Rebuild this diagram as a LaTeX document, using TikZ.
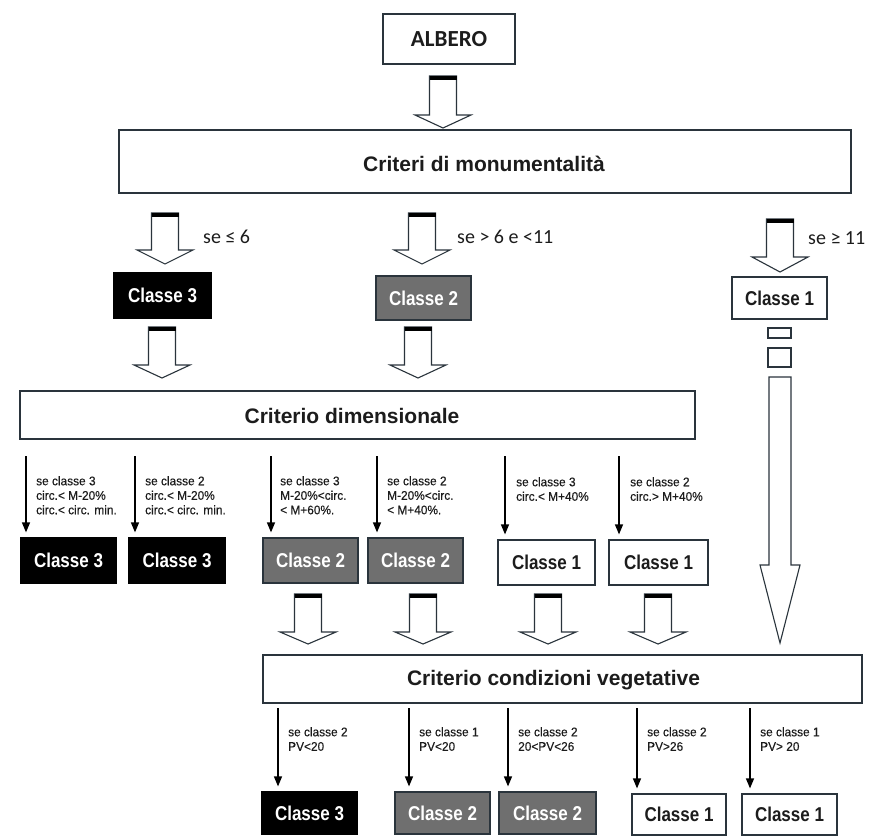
\documentclass[tikz,border=0pt]{standalone}
\usepackage{fontspec}
\setmainfont{Liberation Sans}
\newfontfamily\calfont{Carlito}
\newfontfamily\condfont[FakeStretch=0.85]{Liberation Sans}
\newfontfamily\titfont{Liberation Sans}
\newfontfamily\smallfont[FakeStretch=0.95,FakeBold=0.3]{Liberation Sans}
\usetikzlibrary{arrows.meta}
\definecolor{boxline}{HTML}{2A343C}
\definecolor{textdark}{HTML}{1C1C1C}
\definecolor{grayfill}{HTML}{6F6F6F}
\tikzset{
  whitebox/.style={draw=boxline, line width=1.2pt, fill=white, text=textdark, inner sep=0pt,
     font=\condfont\bfseries\fontsize{20}{22}\selectfont},
  blackbox/.style={draw=black, line width=1.2pt, fill=black, text=white, inner sep=0pt,
     font=\condfont\bfseries\fontsize{20}{22}\selectfont},
  graybox/.style={draw=boxline, line width=1.2pt, fill=grayfill, text=white, inner sep=0pt,
     font=\condfont\bfseries\fontsize{20}{22}\selectfont},
  critbox/.style={draw=boxline, line width=1.2pt, fill=white, inner sep=0pt},
  crittext/.style={text=textdark, inner sep=0pt, font=\titfont\bfseries\fontsize{21}{23}\selectfont},
  condlabel/.style={text=textdark, inner sep=0pt, anchor=north west, align=left,
     font=\smallfont\fontsize{12.5}{14.5}\selectfont},
  selabel/.style={text=textdark, inner sep=0pt, anchor=west, font=\calfont\fontsize{20}{22}\selectfont},
  thinarrow/.style={draw=black, line width=1.3pt, -{Triangle[width=8pt,length=10pt]}, shorten >=5pt},
  harrowline/.style={draw=boxline, line width=1.1pt, fill=white, line join=miter},
}
% hollow arrow: x, top, head start, tip
\newcommand\harrow[4]{%
  \draw[harrowline] (#1-13.5,#2) -- (#1-13.5,#3) -- (#1-28,#3) -- (#1,#4) -- (#1+28,#3)
     -- (#1+13.5,#3) -- (#1+13.5,#2) -- cycle;
  \fill[black] (#1-13.5,#2) rectangle (#1+13.5,#2+4);
}
\begin{document}
\begin{tikzpicture}[x=1pt,y=-1pt]
\useasboundingbox (0,0) rectangle (869,835);
\fill[white] (0,0) rectangle (869,835);

% top
\node[whitebox, minimum width=132pt, minimum height=50pt, font=\calfont\bfseries\fontsize{23}{25}\selectfont] (albero) at (449,39) {ALBERO};
\harrow{443}{76}{115}{128}
\node[critbox, minimum width=732pt, minimum height=63pt] (crit1) at (485,161.5) {};
\node[crittext] (crit1t) at (484,164) {Criteri di monumentalità};

% first split
\harrow{165}{213}{250}{264}
\harrow{422}{213}{250}{264}
\harrow{780}{219}{257}{272}
\node[selabel] (l1) at (203,237) {se ≤ 6};
\node[selabel] (l2) at (457,237) {se > 6 e <11};
\node[selabel] (l3) at (808,238) {se ≥ 11};

\node[blackbox, minimum width=97pt, minimum height=45pt] (c3a) at (162.5,295.5) {Classe 3};
\node[graybox, minimum width=95pt, minimum height=44pt] (c2a) at (423.5,298) {Classe 2};
\node[whitebox, minimum width=95pt, minimum height=42pt] (c1a) at (779.5,298) {Classe 1};

% right long arrow
\draw[harrowline] (768,328) rectangle (791,338);
\draw[harrowline] (768,348) rectangle (791,367);
\draw[harrowline] (769,377) -- (769,565) -- (760,565) -- (780,643) -- (800,565) -- (791,565) -- (791,377) -- cycle;

% second
\harrow{162}{327}{365}{378}
\harrow{418}{327}{365}{378}
\node[critbox, minimum width=675pt, minimum height=48pt] (crit2) at (357.5,415) {};
\node[crittext] (crit2t) at (352,416) {Criterio dimensionale};

% row 1
\node[blackbox, minimum width=95pt, minimum height=45pt] (r1) at (68.5,560.5) {Classe 3};
\node[blackbox, minimum width=97pt, minimum height=45pt] (r2) at (177,560.5) {Classe 3};
\node[graybox, minimum width=95pt, minimum height=45pt] (r3) at (310.5,560.5) {Classe 2};
\node[graybox, minimum width=95pt, minimum height=45pt] (r4) at (415.5,560.5) {Classe 2};
\node[whitebox, minimum width=97pt, minimum height=45pt] (r5) at (546.5,562.5) {Classe 1};
\node[whitebox, minimum width=99pt, minimum height=45pt] (r6) at (658.5,562.5) {Classe 1};

\foreach \n/\x/\b in {a/26/r1, b/135/r2, c/271/r3, d/377/r4, e/505/r5, f/619/r6}{
  \coordinate (t\n) at (\x,456);
  \draw[thinarrow] (t\n) -- (t\n |- \b.north);
}
\node[condlabel] (q1) at (36,476) {se classe 3\\circ.< M-20\%\\circ.< circ. min.};
\node[condlabel] (q2) at (145,476) {se classe 2\\circ.< M-20\%\\circ.< circ. min.};
\node[condlabel] (q3) at (280,476) {se classe 3\\M-20\%<circ.\\< M+60\%.};
\node[condlabel] (q4) at (387,476) {se classe 2\\M-20\%<circ.\\< M+40\%.};
\node[condlabel] (q5) at (516,477) {se classe 3\\circ.< M+40\%};
\node[condlabel] (q6) at (630,477) {se classe 2\\circ.> M+40\%};

% third
\harrow{308}{594}{632}{644}
\harrow{423}{594}{632}{644}
\harrow{548}{594}{632}{644}
\harrow{658}{594}{632}{644}
\node[critbox, minimum width=599pt, minimum height=48pt] (crit3) at (562.5,679) {};
\node[crittext] (crit3t) at (553.5,680) {Criterio condizioni vegetative};

% row 2
\node[blackbox, minimum width=95pt, minimum height=42pt] (s1) at (309.5,813) {Classe 3};
\node[graybox, minimum width=95pt, minimum height=42pt] (s2) at (442.5,813) {Classe 2};
\node[graybox, minimum width=97pt, minimum height=42pt] (s3) at (547.5,813) {Classe 2};
\node[whitebox, minimum width=94pt, minimum height=41pt] (s4) at (679,814.5) {Classe 1};
\node[whitebox, minimum width=95pt, minimum height=41pt] (s5) at (789.5,814.5) {Classe 1};

\foreach \n/\x/\b in {a/278/s1, b/409/s2, c/508/s3, d/637/s4, e/750/s5}{
  \coordinate (u\n) at (\x,708);
  \draw[thinarrow] (u\n) -- (u\n |- \b.north);
}
\node[condlabel] (p1) at (288,727) {se classe 2\\PV<20};
\node[condlabel] (p2) at (419,727) {se classe 1\\PV<20};
\node[condlabel] (p3) at (518,727) {se classe 2\\20<PV<26};
\node[condlabel] (p4) at (647,727) {se classe 2\\PV>26};
\node[condlabel] (p5) at (760,727) {se classe 1\\PV> 20};
\end{tikzpicture}
\end{document}
